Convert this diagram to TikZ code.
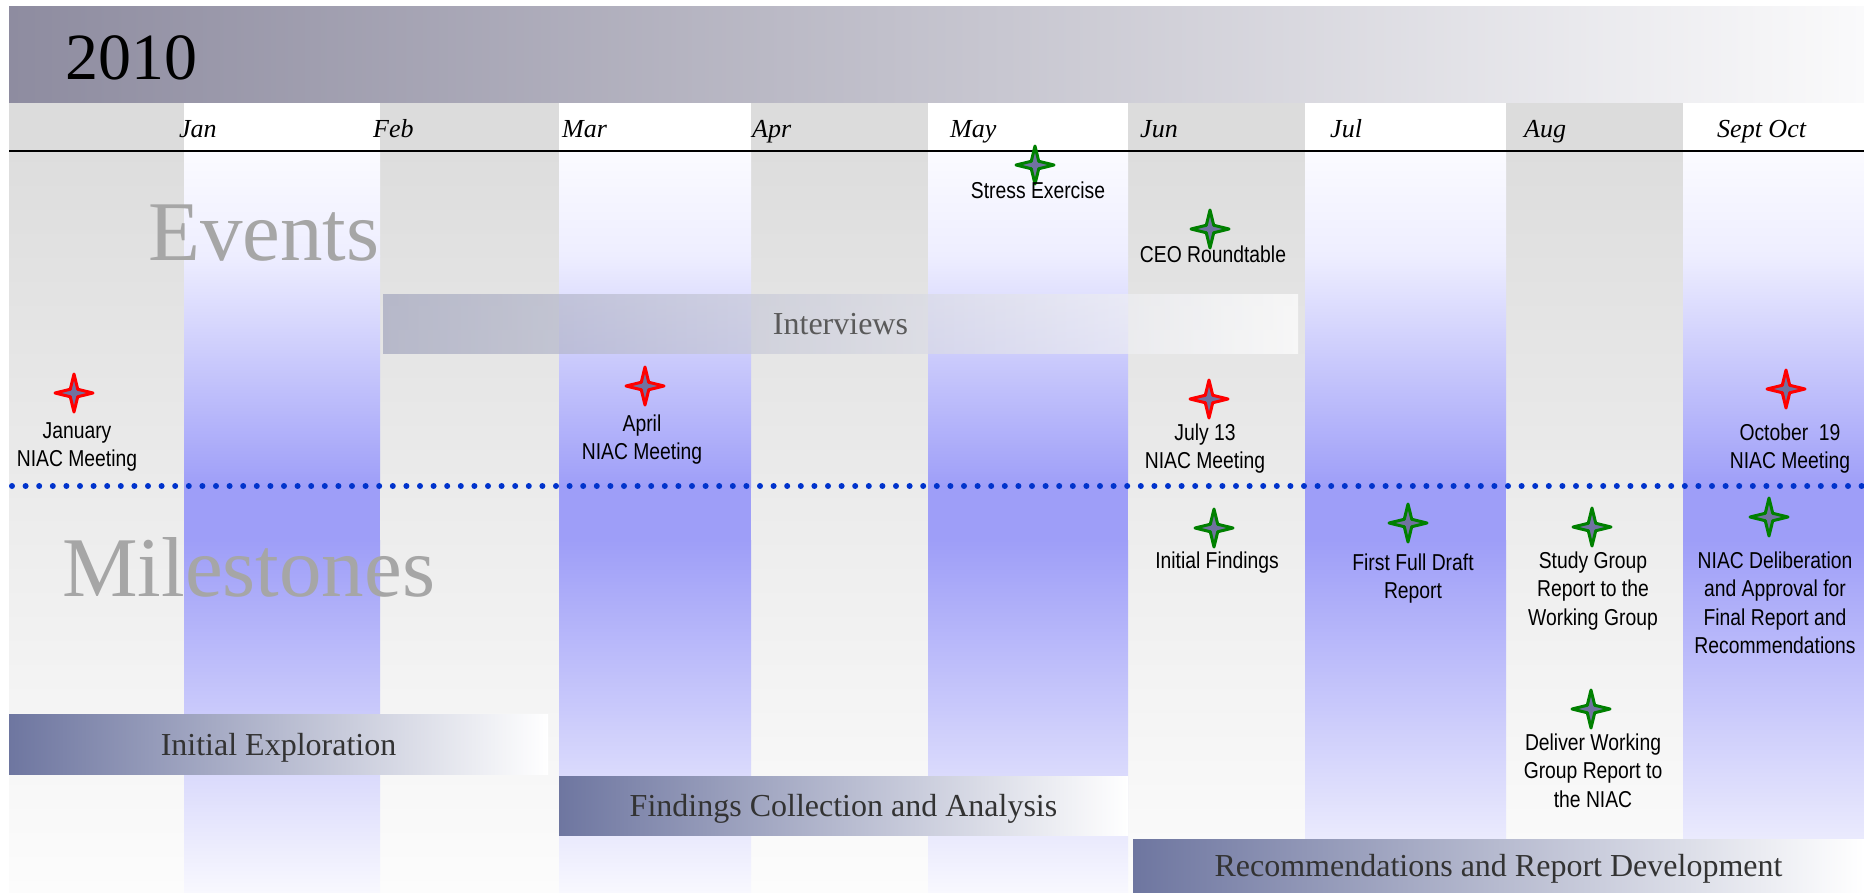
\documentclass[tikz,border=0pt]{standalone}
\usepackage{fontspec}
\setmainfont{Liberation Serif}
\setsansfont{Liberation Sans}
\usepackage{graphicx}
\usetikzlibrary{shapes.geometric}

\definecolor{bannerdark}{RGB}{142,140,160}
\definecolor{bannermid}{RGB}{202,202,210}
\definecolor{bannerlight}{RGB}{250,250,251}
\definecolor{headgrey}{RGB}{220,220,220}
\definecolor{colgreytop}{RGB}{221,221,221}
\definecolor{colgreybot}{RGB}{252,252,252}
\definecolor{colbluetop}{RGB}{251,251,255}
\definecolor{colbluemid}{RGB}{238,238,255}
\definecolor{colbluedeep}{RGB}{158,158,248}
\definecolor{colbluebot}{RGB}{248,248,254}
\definecolor{bardark}{RGB}{110,118,160}
\definecolor{barmid}{RGB}{196,198,210}
\definecolor{interleft}{RGB}{163,166,190}
\definecolor{intermid}{RGB}{170,173,196}
\definecolor{intertext}{RGB}{90,90,90}
\definecolor{starfill}{RGB}{112,114,160}
\definecolor{stargreen}{RGB}{0,128,0}
\definecolor{dotblue}{RGB}{0,51,204}
\definecolor{wordgrey}{RGB}{166,166,166}
\definecolor{bartext}{RGB}{51,51,51}

\newcommand{\narrowlbl}[1]{\scalebox{0.84}[1]{\begin{tabular}[t]{@{}c@{}}#1\end{tabular}}}

\tikzset{
  bigword/.style={anchor=base west, text=wordgrey, font=\fontsize{85}{85}\selectfont, inner sep=0},
  month/.style={anchor=base west, font=\fontsize{26}{26}\selectfont\itshape, inner sep=0},
  niacstar/.style={star, star points=4, star point ratio=3.6, minimum size=38pt, inner sep=0, fill=starfill, line width=3pt, line join=round},
  redstar/.style={niacstar, draw=red},
  greenstar/.style={niacstar, draw=stargreen},
  evlabel/.style={anchor=base, inner sep=0, font=\fontsize{23}{28.6}\selectfont\sffamily},
  phasebar/.style={minimum height=60pt, inner sep=0, text height=22pt, text depth=0pt, text=bartext, font=\fontsize{32}{32}\selectfont, left color=bardark, middle color=barmid, right color=white},
  interbar/.style={minimum height=59pt, inner sep=0, text height=22pt, text depth=0pt, text=intertext, font=\fontsize{32}{32}\selectfont, left color=interleft, middle color=intermid, right color=white, fill opacity=0.7, text opacity=1}
}

\begin{document}
\begin{tikzpicture}[x=1pt,y=-1pt]
	\useasboundingbox (0,0) rectangle (1864,892);
	\fill[white] (0,0) rectangle (1864,892);
	\shade[left color=bannerdark, middle color=bannermid, right color=bannerlight] (9,6) rectangle (1864,103);
	\foreach \xa/\xb in {9/184, 380/559, 751/928, 1128/1305, 1506/1683} {
		\fill[headgrey] (\xa,103) rectangle (\xb,151);
		\shade[top color=colgreytop, bottom color=colgreybot] (\xa,150) rectangle (\xb,892);
	}
	\foreach \xa/\xb in {184/380, 559/751, 928/1128, 1305/1506, 1683/1864} {
		\fill[white] (\xa,103) rectangle (\xb,151);
		\shade[top color=colbluetop, bottom color=colbluemid] (\xa,150) rectangle (\xb,256);
		\shade[top color=colbluemid, bottom color=colbluedeep] (\xa,255) rectangle (\xb,487);
		\fill[colbluedeep] (\xa,486) rectangle (\xb,541);
		\shade[top color=colbluedeep, bottom color=colbluebot] (\xa,540) rectangle (\xb,892);
	}
	\draw[line width=2pt] (9,151) -- (1864,151);

	\node[anchor=base west, font=\fontsize{66}{66}\selectfont, inner sep=0] (year) at (65,79) {2010};
	\node[month] (jan) at (179,137) {Jan};
	\node[month] (feb) at (373,137) {Feb};
	\node[month] (mar) at (562,137) {Mar};
	\node[month] (apr) at (752,137) {Apr};
	\node[month] (may) at (950,137) {May};
	\node[month] (jun) at (1140,137) {Jun};
	\node[month] (jul) at (1330,137) {Jul};
	\node[month] (aug) at (1524,137) {Aug};
	\node[month] (sepoct) at (1717,137) {Sept Oct};

	\node[bigword] (events) at (148,260) {Events};
	\node[bigword] (milestones) at (62,596) {Milestones};

	\node[interbar, minimum width=915pt] (interviews) at (840.5,323.5) {Interviews};

	\draw[dotblue, line width=6pt, line cap=round, dash pattern=on 0pt off 13.6pt] (12,486) -- (1864,486);

	\node[phasebar, minimum width=539pt] (explore) at (278.5,744.5) {Initial Exploration};
	\node[phasebar, minimum width=569pt, minimum height=59pt] (findings) at (843.5,805.5) {Findings Collection and Analysis};
	\node[phasebar, minimum width=731pt, minimum height=53pt] (recommend) at (1498.5,865.5) {Recommendations and Report Development};

	\node[redstar] (janstar) at (74,393) {};
	\node[redstar] (aprstar) at (645,386) {};
	\node[redstar] (julstar) at (1209,399) {};
	\node[redstar] (octstar) at (1786,389) {};
	\node[greenstar] (stressstar) at (1035,165) {};
	\node[greenstar] (ceostar) at (1210,229) {};
	\node[greenstar] (findstar) at (1214,528) {};
	\node[greenstar] (draftstar) at (1408,523) {};
	\node[greenstar] (studystar) at (1592,527) {};
	\node[greenstar] (delibstar) at (1769,517) {};
	\node[greenstar] (deliverstar) at (1591,709) {};

	\node[evlabel] (janlbl) at (77,438) {\narrowlbl{January\\NIAC Meeting}};
	\node[evlabel] (aprlbl) at (642,431) {\narrowlbl{April\\NIAC Meeting}};
	\node[evlabel] (jullbl) at (1205,440) {\narrowlbl{July 13\\NIAC Meeting}};
	\node[evlabel] (octlbl) at (1790,440) {\narrowlbl{October\ \ 19\\NIAC Meeting}};
	\node[evlabel] (stresslbl) at (1038,198) {\narrowlbl{Stress Exercise}};
	\node[evlabel] (ceolbl) at (1213,262) {\narrowlbl{CEO Roundtable}};
	\node[evlabel] (findlbl) at (1217,568) {\narrowlbl{Initial Findings}};
	\node[evlabel] (draftlbl) at (1413,570) {\narrowlbl{First Full Draft\\Report}};
	\node[evlabel] (studylbl) at (1593,568) {\narrowlbl{Study Group\\Report to the\\Working Group}};
	\node[evlabel] (deliblbl) at (1775,568) {\narrowlbl{NIAC Deliberation\\and Approval for\\Final Report and\\Recommendations}};
	\node[evlabel] (deliverlbl) at (1593,750) {\narrowlbl{Deliver Working\\Group Report to\\the NIAC}};
\end{tikzpicture}
\end{document}
